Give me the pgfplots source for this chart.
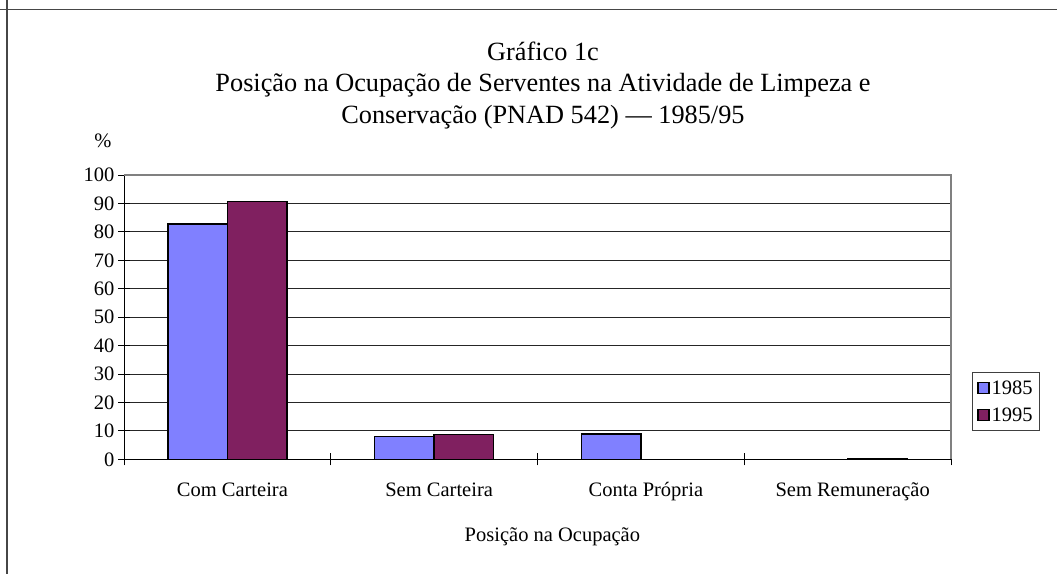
\documentclass[border=0pt]{standalone}
\usepackage{fontspec}
\setmainfont{Liberation Serif}
\usepackage{pgfplots}
\pgfplotsset{compat=1.18}
\definecolor{ano85}{RGB}{128,128,255}
\definecolor{ano95}{RGB}{128,32,96}
\definecolor{moldura}{RGB}{70,70,70}
\newcommand{\ticksize}{\fontsize{20.5}{24}\selectfont}
\newcommand{\titlesize}{\fontsize{26.3}{30}\selectfont}

\begin{document}
\begin{tikzpicture}
  \path[use as bounding box] (0pt,0pt) rectangle (1057pt,-574pt);
  % moldura do quadro
  \draw[moldura, line width=1.6pt] (0pt,-9.3pt) -- (1057pt,-9.3pt);
  \draw[moldura, line width=1.6pt] (6.7pt,0pt) -- (6.7pt,-574pt);

  \begin{axis}[
    at={(124pt,-459.3pt)}, anchor=south west,
    scale only axis, width=827pt, height=284.3pt,
    ybar=0pt, bar width=0.288,
    xmin=-0.5, xmax=3.5, ymin=0, ymax=100,
    ytick={0,10,...,100},
    xtick={-0.5,0.5,1.5,2.5,3.5},
    x tick label as interval,
    xticklabels={Com Carteira, Sem Carteira, Conta Própria, Sem Remuneração},
    axis x line*=bottom, axis y line*=left,
    axis line style={black, line width=1pt},
    ymajorgrids, grid style={black!85, line width=0.8pt},
    tick style={black, line width=1pt},
    tick align=center, major tick length=12pt,
    /pgf/number format/assume math mode=true,
    tick label style={font=\ticksize},
    x tick label style={anchor=base, xshift=5pt, yshift=-31pt},
    y tick label style={anchor=east},
    xlabel={Posição na Ocupação},
    xlabel style={font=\ticksize, at={(axis description cs:0.518,0)}, anchor=base, yshift=-81.7pt},
    ylabel={\%},
    ylabel style={font=\ticksize, rotate=-90, at={(axis description cs:-0.0254,1.0985)}, anchor=base},
    legend style={at={(axis description cs:1.0254,0.0995)}, anchor=south west,
      draw=black!75, line width=0.8pt, font=\ticksize, row sep=8pt,
      inner xsep=5pt, inner ysep=6pt},
    legend cell align=left,
    legend image code/.code={\draw[#1, draw=black, line width=1.2pt] (0pt,-5.5pt) rectangle (11pt,5.5pt);},
    clip=false
  ]
    \addplot[fill=ano85, draw=black, line width=1.5pt]
      coordinates {(0,82.7) (1,8.1) (2,8.9)};
    \addplot[fill=ano95, draw=black, line width=1.5pt]
      coordinates {(0,90.7) (1,8.7) (3,0.3)};
    \legend{1985,1995}
    \draw[black!50, line width=1.6pt] (rel axis cs:0,1) -- (rel axis cs:1,1) -- (rel axis cs:1,0);
  \end{axis}

  \node[font=\titlesize, anchor=base] at (543pt,-60pt) {Gráfico 1c};
  \node[font=\titlesize, anchor=base] at (543pt,-91.7pt) {Posição na Ocupação de Serventes na Atividade de Limpeza e};
  \node[font=\titlesize, anchor=base] at (543pt,-123.3pt) {Conservação (PNAD 542) — 1985/95};
\end{tikzpicture}
\end{document}
